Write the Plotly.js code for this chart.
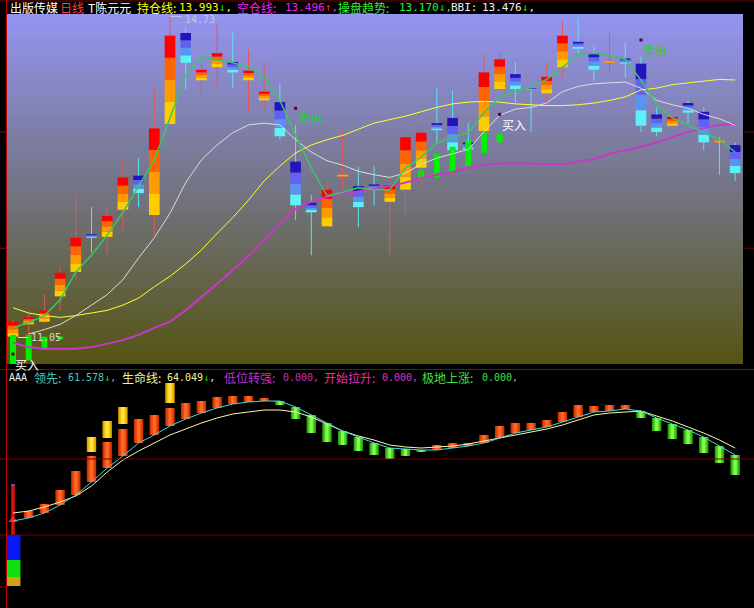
<!DOCTYPE html>
<html><head><meta charset="utf-8">
<script src="https://cdn.plot.ly/plotly-3.0.1.min.js"></script>
<style>html,body{margin:0;padding:0;background:#000;overflow:hidden}#chart{width:754px;height:608px}</style>
</head><body><div id="chart"></div>
<script>
// ---------------- DATA ----------------
const days = Array.from({length:47}, (_, i) => i);   // trading-day index
const open  = [11.06,11.20,11.23,11.52,11.80,12.23,12.20,12.51,12.90,12.45,13.49,14.53,13.99,14.14,14.20,13.99,13.76,13.74,13.06,12.59,12.32,12.89,12.78,12.80,12.60,12.74,12.99,13.50,13.56,13.28,13.41,13.89,14.06,13.90,13.84,14.14,14.43,14.30,14.19,14.24,14.18,13.60,13.47,13.73,13.63,13.28,13.25];
const close = [11.23,11.28,11.36,11.79,12.19,12.19,12.44,12.88,12.70,13.44,14.50,14.19,14.11,14.30,14.08,14.10,13.86,13.35,12.56,12.48,12.74,12.91,12.54,12.74,12.79,13.34,13.39,13.42,13.19,13.20,14.08,14.23,13.89,13.88,14.03,14.50,14.35,14.11,14.21,14.18,13.47,13.40,13.57,13.62,13.28,13.28,12.93];
const high  = [11.25,11.33,11.54,11.86,12.71,12.54,12.53,13.08,13.10,13.90,14.73,14.59,14.19,14.64,14.54,14.34,14.20,13.96,13.48,12.68,12.82,13.42,13.00,13.01,12.88,13.57,13.46,13.90,13.87,13.50,14.28,14.30,14.20,13.91,14.19,14.66,14.70,14.39,14.53,14.42,14.26,13.68,13.59,13.76,13.68,13.34,13.28];
const low   = [11.06,11.05,11.21,11.36,11.71,12.02,11.99,12.26,12.54,12.22,13.47,13.88,13.82,13.91,13.90,13.63,13.65,13.31,12.39,11.99,12.31,12.74,12.31,12.56,11.99,12.45,12.74,13.27,13.17,13.18,13.40,13.88,13.73,13.40,13.71,14.03,14.30,13.98,14.08,14.02,13.40,13.35,13.46,13.50,13.19,12.91,12.84];

const holdLine  = [11.39,11.33,11.30,11.28,11.30,11.33,11.36,11.42,11.50,11.63,11.75,11.89,12.05,12.24,12.42,12.62,12.84,13.01,13.16,13.25,13.31,13.36,13.43,13.50,13.54,13.58,13.63,13.68,13.72,13.74,13.75,13.74,13.72,13.71,13.70,13.70,13.71,13.73,13.76,13.80,13.88,13.90,13.94,13.96,13.98,14.00,13.993]; // 持仓线
const emptyLine = [10.99,10.94,10.92,10.92,10.92,10.94,10.98,11.02,11.08,11.16,11.23,11.36,11.51,11.66,11.82,11.98,12.16,12.36,12.52,12.60,12.66,12.69,12.72,12.75,12.78,12.82,12.87,12.91,12.94,12.99,13.02,13.04,13.04,13.04,13.03,13.03,13.06,13.09,13.15,13.19,13.23,13.28,13.34,13.40,13.44,13.48,13.496]; // 空仓线
const trendLine = [11.16,11.22,11.30,11.48,11.80,11.99,12.22,12.48,12.78,13.08,13.56,14.05,14.26,14.22,14.19,14.14,14.03,13.76,13.36,12.99,12.67,12.71,12.76,12.74,12.74,12.99,13.11,13.27,13.34,13.39,13.62,13.80,13.86,13.91,14.00,14.14,14.28,14.30,14.27,14.23,13.99,13.71,13.56,13.48,13.39,13.31,13.170]; // 操盘趋势
const bbiLine   = [null,11.09,11.14,11.20,11.30,11.42,11.54,11.71,11.96,12.19,12.47,12.82,13.08,13.25,13.39,13.48,13.50,13.48,13.31,13.17,13.07,13.02,12.95,12.91,12.88,12.93,13.03,13.10,13.15,13.20,13.40,13.59,13.66,13.68,13.73,13.86,13.92,13.95,13.96,13.97,13.90,13.76,13.71,13.67,13.60,13.55,13.476]; // BBI

const stickIdx = [0,1,2,3,26,27,28,29,30,31];
const stickHi  = [11.08,11.08,11.06,11.06,12.96,13.15,13.23,13.31,13.39,13.38];
const stickLo  = [10.74,10.79,10.91,11.03,12.87,12.88,12.94,13.01,13.16,13.28];

const sellIdx = [18,40], sellPrice = [13.67,14.45];
const buyIdx  = [0,31],  buyPrice  = [10.86,13.60];

// lower indicator (AAA)
const lead = [38.26,39.32,41.08,43.91,47.44,52.04,56.99,61.23,65.82,68.65,71.83,74.30,76.42,78.19,79.60,80.31,80.66,80.66,78.54,75.72,72.89,70.06,67.94,65.82,64.05,63.70,63.35,63.35,64.05,64.76,65.82,67.59,69.35,70.42,71.48,73.24,75.01,76.78,77.13,77.84,77.13,74.66,72.54,70.42,67.94,64.76,61.578]; // 领先
const life = [41.08,41.79,43.20,44.97,47.09,50.62,55.57,59.81,62.99,65.82,68.65,70.77,72.89,74.66,76.07,76.78,77.48,77.48,76.78,75.01,72.54,70.06,68.29,66.88,65.11,64.41,64.05,64.41,64.76,65.47,66.53,67.59,68.65,69.71,70.77,72.18,73.95,75.72,76.42,76.78,77.13,75.36,73.60,71.48,69.35,66.88,64.049]; // 生命线
const momentum = [null,41.79,44.26,49.21,55.93,61.23,66.17,70.77,74.30,75.72,78.19,79.96,80.66,82.08,82.43,82.43,81.72,79.25,74.30,69.35,66.17,65.11,62.99,61.58,60.17,61.23,62.64,65.11,65.82,65.82,68.65,71.83,72.89,72.89,73.95,76.78,79.25,78.90,79.25,79.25,74.66,70.06,67.23,65.47,62.29,58.75,54.51];
const boostIdx = [5,6,7,10];
const boostHi  = [67.94,73.60,78.54,87.02];
const boostLo  = [62.64,67.59,72.54,79.96];
const startLine  = [33.31,51.33];
const startArrow = 38.61;
const startStack = [33.31,24.47,18.47,15.28];
const lowTurn = 0, beginRise = 0, floorRise = 0; // 低位转强 / 开始拉升 / 极地上涨

// ---------------- BUILD ----------------
const traces = [];
const T = {xaxis:'x', yaxis:'y', hoverinfo:'skip', showlegend:false};
const B = {xaxis:'x2', yaxis:'y2', hoverinfo:'skip', showlegend:false};
const CW = 0.68;

const up = [], dn = [], dj = [];
days.forEach(i => {
  const d = close[i] - open[i];
  if (d >= 0 && d <= 0.025) dj.push(i); else if (d > 0) up.push(i); else dn.push(i);
});
const redWick = days.filter(i => close[i] > open[i]);
const cyanWick = days.filter(i => close[i] <= open[i]);

function bandBars(list, cols) {
  return cols.map((c, k) => Object.assign({
    type:'bar', x:list,
    base:list.map(i => { const lo = Math.min(open[i], close[i]), hi = Math.max(open[i], close[i]); return lo + k*(hi-lo)/4; }),
    y:list.map(i => Math.abs(close[i]-open[i])/4),
    width:CW, marker:{color:c, line:{width:0}}
  }, T));
}
function wicks(list, color) {
  const xs = [], ys = [];
  list.forEach(i => {
    const top = Math.max(open[i], close[i]), bot = Math.min(open[i], close[i]);
    xs.push(i, i, null, i, i, null); ys.push(high[i], top, null, bot, low[i], null);
  });
  return Object.assign({type:'scatter', mode:'lines', x:xs, y:ys, line:{color, width:1}}, T);
}

traces.push(...bandBars(up, ['#ffcc00','#ff9a00','#ff6400','#ff0000']));
traces.push(...bandBars(dn, ['#60f0f8','#5a94f2','#6262f0','#2414bc']));
traces.push(Object.assign({type:'bar', x:dj, base:dj.map(i => Math.min(open[i], close[i])),
  y:dj.map(i => Math.max(Math.abs(close[i]-open[i]), 0.018)), width:CW,
  marker:{color:'#ffb000', line:{width:0.5, color:'#ff7000'}}}, T));
traces.push(Object.assign({type:'bar', x:stickIdx, base:stickLo, y:stickHi.map((h, k) => h - stickLo[k]),
  width:0.38, marker:{color:'#00f000', line:{width:0}}}, T));
traces.push(wicks(redWick, '#e05858'));
traces.push(wicks(cyanWick, '#58e4f4'));
traces.push(Object.assign({type:'scatter', mode:'lines', x:days, y:emptyLine, line:{color:'#c838c8', width:2}}, T));
traces.push(Object.assign({type:'scatter', mode:'lines', x:days, y:holdLine, line:{color:'#ffff30', width:1}}, T));
traces.push(Object.assign({type:'scatter', mode:'lines', x:days, y:bbiLine, line:{color:'#dcdcdc', width:1}}, T));
traces.push(Object.assign({type:'scatter', mode:'lines', x:days, y:trendLine, line:{color:'#38c860', width:1.5}}, T));
traces.push(Object.assign({type:'scatter', mode:'markers', x:sellIdx.concat(buyIdx), y:sellPrice.concat(buyPrice),
  marker:{size:3, color:'#5a0030', symbol:'square'}}, T));

// lower panel
const redI = [], grnI = [];
days.forEach(i => { if (momentum[i] == null) return; (momentum[i] >= lead[i] ? redI : grnI).push(i); });
function cyl(list, baseF, hF, cols) {
  const widths = [0.6, 0.42, 0.2];
  return cols.map((c, k) => Object.assign({type:'bar', x:list, base:list.map(baseF), y:list.map(hF),
    width:widths[k], marker:{color:c, line:{width:0}}}, B));
}
traces.push(...cyl(redI, i => lead[i], i => momentum[i]-lead[i], ['#cc3200','#ea4a10','#ff6a28']));
traces.push(...cyl(grnI, i => momentum[i], i => lead[i]-momentum[i], ['#28a010','#48d020','#84ff50']));
const bk = boostIdx.map((_, k) => k);
['#e0a000','#f8c400','#ffe450'].forEach((c, k) => traces.push(Object.assign({type:'bar', x:boostIdx,
  base:boostLo, y:bk.map(j => boostHi[j]-boostLo[j]), width:[0.6,0.42,0.2][k], marker:{color:c, line:{width:0}}}, B)));
// start marks on first day
const stackCols = ['#0818f0','#10e010','#d0a018'];
stackCols.forEach((c, k) => traces.push(Object.assign({type:'bar', x:[0], base:[startStack[k+1]],
  y:[startStack[k]-startStack[k+1]], width:0.95, marker:{color:c, line:{width:0}}}, B)));
traces.push(Object.assign({type:'bar', x:[0], base:[startLine[0]], y:[startLine[1]-startLine[0]], width:0.22,
  marker:{color:'#e01010', line:{width:0}}}, B));
traces.push(Object.assign({type:'bar', x:[0], base:[startLine[1]-0.8], y:[0.8], width:0.22,
  marker:{color:'#8040d0', line:{width:0}}}, B));
traces.push(Object.assign({type:'scatter', mode:'markers', x:[0], y:[startArrow],
  marker:{symbol:'triangle-up', size:8, color:'#ff2020'}}, B));
traces.push(Object.assign({type:'scatter', mode:'lines', x:days, y:life, line:{color:'#f8f8b0', width:1}}, B));
traces.push(Object.assign({type:'scatter', mode:'lines', x:days, y:lead, line:{color:'#48d4dc', width:1}}, B));

// ---------------- LAYOUT ----------------
const W = 754, H = 608, ML = 7, MR = 11, MT = 15;
const PW = W - ML - MR, PH = H - MT;
const px = v => (v - ML) / PW, py = v => (H - v) / PH;
const shapes = [];
const topC = [148,148,242], botC = [84,84,20], N = 120;
for (let k = 0; k < N; k++) {
  const t = (k + 0.5) / N;
  const c = botC.map((b, j) => Math.round(b + (topC[j]-b)*t));
  shapes.push({type:'rect', xref:'x domain', yref:'y domain', x0:0, x1:1, y0:k/N, y1:(k+1)/N + 0.003,
    fillcolor:`rgb(${c.join(',')})`, line:{width:0}, layer:'below'});
}
const red = '#a00000';
shapes.push({type:'line', xref:'paper', yref:'paper', x0:px(6.5), x1:px(6.5), y0:0, y1:py(0), line:{color:'#c00000', width:1}});
shapes.push({type:'line', xref:'paper', yref:'paper', x0:px(0), x1:px(754), y0:py(1), y1:py(1), line:{color:'#800000', width:1}});
shapes.push({type:'line', xref:'paper', yref:'paper', x0:px(0), x1:px(754), y0:py(369.5), y1:py(369.5), line:{color:red, width:1}});
[60.17, 33.31].forEach(v => shapes.push({type:'line', xref:'paper', yref:'y2', x0:px(6.5), x1:px(754), y0:v, y1:v, line:{color:'#7a0000', width:1}}));
[60.17, 33.31, 14.93].forEach(v => shapes.push({type:'line', xref:'paper', yref:'y2', x0:px(0), x1:px(6.5), y0:v, y1:v, line:{color:red, width:1}}));
[13.40, 12.07].forEach(v => {
  shapes.push({type:'line', xref:'paper', yref:'y', x0:px(0), x1:px(6.5), y0:v, y1:v, line:{color:red, width:1}});
  shapes.push({type:'line', xref:'paper', yref:'y', x0:px(744), x1:px(754), y0:v, y1:v, line:{color:'#700000', width:1}});
});

// extremes
const maxH = Math.max(...high), iMax = high.indexOf(maxH);
const minL = Math.min(...low), iMin = low.indexOf(minL);
shapes.push({type:'line', xref:'x', yref:'y', x0:iMax, x1:iMax+0.75, y0:maxH-0.01, y1:maxH-0.01, line:{color:'#c8c8e4', width:1}});
shapes.push({type:'line', xref:'x', yref:'y', x0:iMin-0.68, x1:iMin-0.05, y0:minL, y1:minL, line:{color:'#e0e0e0', width:1}});

const CJK = 'Noto Sans CJK SC', MONO = 'DejaVu Sans Mono';
const ann = [];
function lab(x, y, text, color, family, size) {
  ann.push({xref:'paper', yref:'paper', x:px(x), y:py(y), xanchor:'left', yanchor:'middle', showarrow:false,
    text, font:{family, size, color}});
}
function val(arr, digits) {
  const a = arr[arr.length-1], b = arr[arr.length-2];
  const upA = a > b;
  return a.toFixed(digits) + `<span style="color:${upA ? '#ff2020' : '#00e000'}">${upA ? '↑' : '↓'}</span>,`;
}
const TY = 7.5, BY = 378;
lab(8, TY, '出版传媒', '#ffffff', CJK, 12);
lab(58, TY, '日线', '#ff3c3c', CJK, 12);
lab(86, TY, 'T陈元元', '#ffffff', CJK, 12);
lab(135, TY, '持仓线:', '#ffff00', CJK, 12);
lab(177, TY, val(holdLine, 3), '#ffff00', MONO, 11);
lab(235, TY, '空仓线:', '#f020f0', CJK, 12);
lab(283, TY, val(emptyLine, 3), '#f020f0', MONO, 11);
lab(336, TY, '操盘趋势:', '#30f030', CJK, 12);
lab(397, TY, val(trendLine, 3), '#30f030', MONO, 11);
lab(449, TY, 'BBI:', '#f0f0f0', MONO, 11);
lab(480, TY, val(bbiLine, 3), '#f0f0f0', MONO, 11);

lab(7, BY, 'AAA', '#f0f0f0', MONO, 10);
lab(32, BY, '领先:', '#48c8c0', CJK, 12);
lab(66, BY, val(lead, 3), '#48c8c0', MONO, 10);
lab(120, BY, '生命线:', '#f0f0a0', CJK, 12);
lab(165, BY, val(life, 3), '#f0f0a0', MONO, 10);
lab(222, BY, '低位转强:', '#c030d0', CJK, 12);
lab(281, BY, lowTurn.toFixed(3) + ',', '#c030d0', MONO, 10);
lab(322, BY, '开始拉升:', '#e030b8', CJK, 12);
lab(380, BY, beginRise.toFixed(3) + ',', '#e030b8', MONO, 10);
lab(420, BY, '极地上涨:', '#40e040', CJK, 12);
lab(480, BY, floorRise.toFixed(3) + ',', '#40e040', MONO, 10);

ann.push({xref:'x', yref:'y', x:iMax+0.8, y:maxH, yshift:-4, xanchor:'left', yanchor:'middle', showarrow:false,
  text:maxH.toFixed(2), font:{family:MONO, size:10, color:'#c4c4e4'}});
ann.push({xref:'x', yref:'y', x:iMin, y:minL, xanchor:'left', yanchor:'middle', showarrow:false,
  text:minL.toFixed(2), font:{family:MONO, size:10, color:'#d8d8d8'}});
sellIdx.forEach((i, k) => ann.push({xref:'x', yref:'y', x:i, y:sellPrice[k], xanchor:'left', yanchor:'top', showarrow:false,
  text:'卖出', font:{family:CJK, size:12, color:'#30c838'}}));
buyIdx.forEach((i, k) => ann.push({xref:'x', yref:'y', x:i, y:buyPrice[k], xanchor:'left', yanchor:'top', showarrow:false,
  text:'买入', font:{family:CJK, size:12, color:'#ffffff'}}));

const ax = {showgrid:false, zeroline:false, showticklabels:false, ticks:'', showline:false, fixedrange:true};
const layout = {
  width:W, height:H, margin:{l:ML, r:MR, t:MT, b:0, pad:0},
  paper_bgcolor:'#000', plot_bgcolor:'#000', showlegend:false, barmode:'overlay', hovermode:false,
  xaxis:Object.assign({domain:[0,1], range:[-0.382,46.5], anchor:'y'}, ax),
  xaxis2:Object.assign({domain:[0,1], range:[-0.382,46.5], anchor:'y2'}, ax),
  yaxis:Object.assign({domain:[py(364),1], range:[10.747,14.736], anchor:'x'}, ax),
  yaxis2:Object.assign({domain:[0,py(371)], range:[7.51,91.27], anchor:'x2'}, ax),
  shapes, annotations:ann
};
Plotly.newPlot('chart', traces, layout, {staticPlot:true, displayModeBar:false});
</script></body></html>
